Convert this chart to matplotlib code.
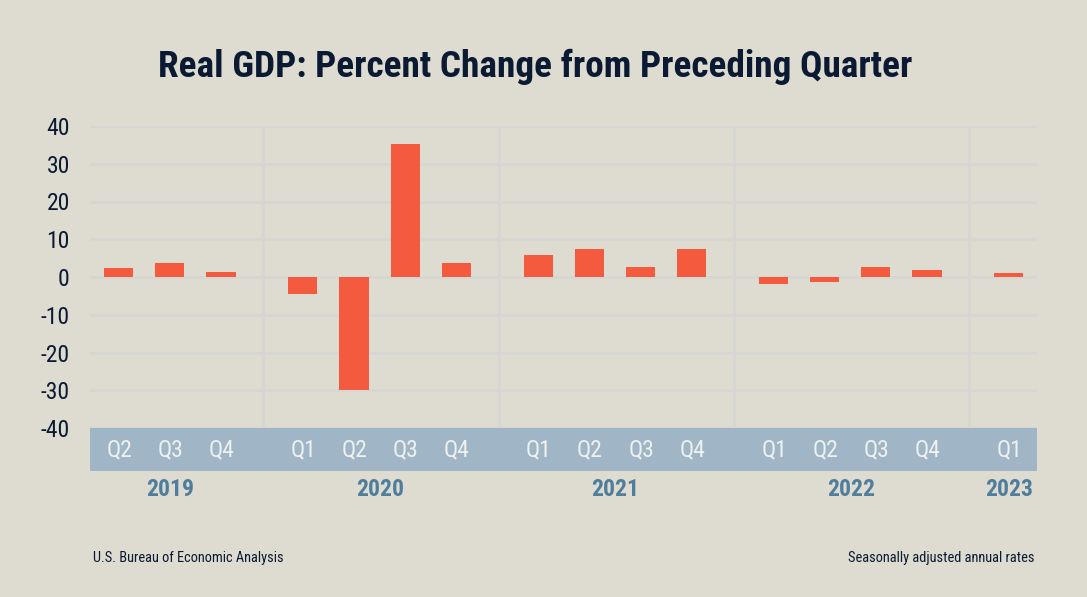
#!/usr/bin/env python3

import numpy as np
import matplotlib
matplotlib.use('Agg')
import matplotlib.pyplot as plt
from matplotlib.patches import Rectangle

plt.rcParams['font.family'] = ['Roboto Condensed', 'Liberation Sans Narrow', 'Roboto', 'DejaVu Sans']

# Data
quarters = ['Q2', 'Q3', 'Q4',
            'Q1', 'Q2', 'Q3', 'Q4',
            'Q1', 'Q2', 'Q3', 'Q4',
            'Q1', 'Q2', 'Q3', 'Q4',
            'Q1']
quarter_years = [2019, 2019, 2019,
                 2020, 2020, 2020, 2020,
                 2021, 2021, 2021, 2021,
                 2022, 2022, 2022, 2022,
                 2023]
gdp_change = [2.4, 3.8, 1.2,
              -4.6, -29.9, 35.3, 3.8,
              5.8, 7.4, 2.6, 7.4,
              -1.8, -1.2, 2.6, 1.9,
              1.1]
y_ticks = [-40, -30, -20, -10, 0, 10, 20, 30, 40]

BG = '#dedcd0'
GRID = '#d6d7d3'
BAR = '#f45a3e'
BAND = '#a0b6c6'
YEAR = '#4f7d9c'
NAVY = '#0b1a33'

W, H = 1087, 597
fig = plt.figure(figsize=(W / 100, H / 100), dpi=100, facecolor=BG)
ax = fig.add_axes([90 / W, 1 - 428 / H, 947 / W, 302 / H], facecolor=BG)

# Quarter slots, with an extra 0.6 slot of room between years
years = sorted(set(quarter_years))
year_idx = np.array([years.index(y) for y in quarter_years])
x = np.arange(len(quarters)) + 0.6 * year_idx

ax.bar(x, gdp_change, width=0.57, color=BAR, zorder=3)

ax.set_xlim(-0.56, 17.95)
ax.set_ylim(-40, 40)
ax.set_xticks([])
ax.set_yticks(y_ticks)
ax.set_yticklabels([str(v) for v in y_ticks], fontsize=17, color=NAVY)
ax.tick_params(axis='y', length=0, pad=14.5)
ax.yaxis.grid(True, color=GRID, linewidth=2, zorder=1)
ax.set_axisbelow(True)
for side in ax.spines:
    ax.spines[side].set_visible(False)

# Vertical year separators
for i in range(1, len(years)):
    last = x[year_idx == i - 1][-1]
    ax.axvline(last + 0.83, color=GRID, linewidth=2, zorder=1)

# Quarter band below the plot
trans = ax.get_xaxis_transform()
ax.add_patch(Rectangle((0, -43 / 302), 1, 43 / 302, transform=ax.transAxes,
                       facecolor=BAND, edgecolor='none', clip_on=False, zorder=2))
for xi, q in zip(x, quarters):
    ax.text(xi + 0.01, -22 / 302, q, transform=trans, ha='center', va='center',
            fontsize=17, color='#eef1f0', zorder=5)

for yr in years:
    xs = x[year_idx == years.index(yr)]
    ax.text(xs.mean() + 0.01, -62 / 302, str(yr), transform=trans, ha='center', va='center',
            fontsize=17, fontweight='bold', color=YEAR)

fig.text(535 / W, 1 - 67 / H, 'Real GDP: Percent Change from Preceding Quarter',
         ha='center', va='center', fontsize=26.8, fontweight='bold', color=NAVY)
fig.text(93 / W, 1 - 558 / H, 'U.S. Bureau of Economic Analysis',
         ha='left', va='center', fontsize=10.4, color=NAVY)
fig.text(1034 / W, 1 - 558 / H, 'Seasonally adjusted annual rates',
         ha='right', va='center', fontsize=10.4, color=NAVY)

fig.savefig('out.png', dpi=100, facecolor=BG)
